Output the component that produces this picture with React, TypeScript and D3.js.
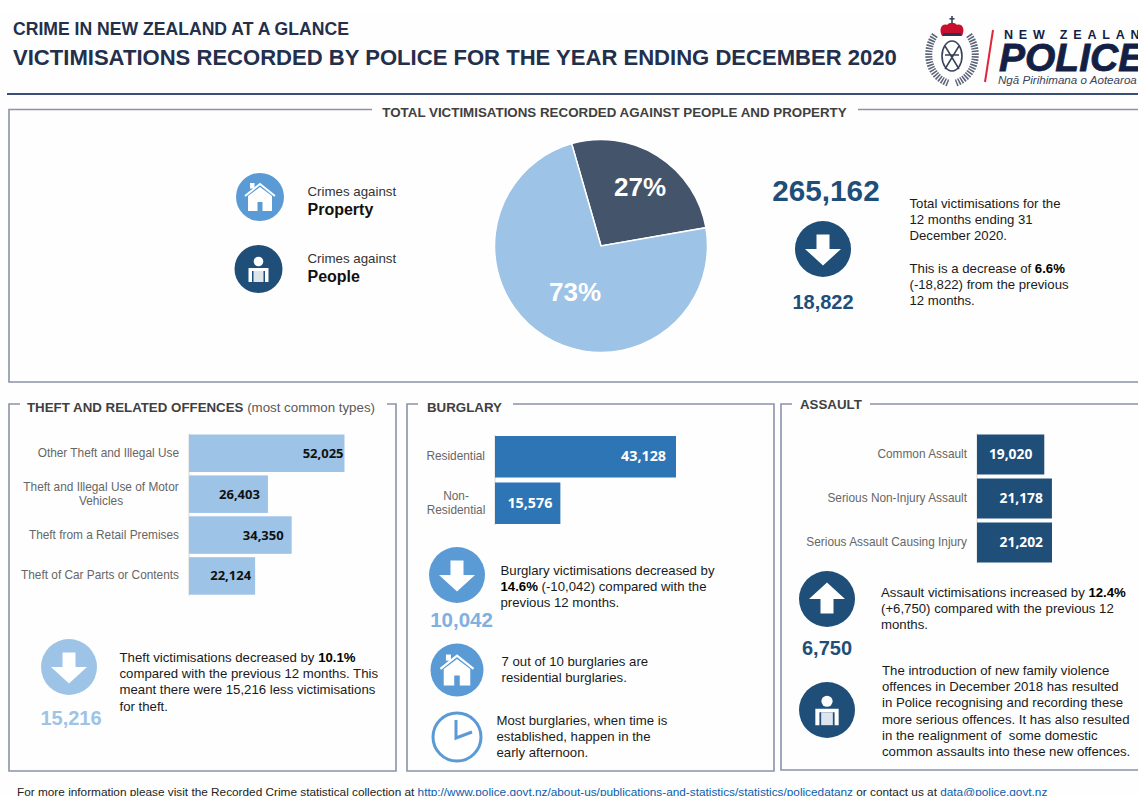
import React from "react";
import * as d3 from "d3";

const pieLabels = ["27%", "73%"];
const pieValues = [26.7, 73.3];
const theftCats = [["Other Theft and Illegal Use"], ["Theft and Illegal Use of Motor", "Vehicles"], ["Theft from a Retail Premises"], ["Theft of Car Parts or Contents"]];
const theftVals = [52025, 26403, 34350, 22124];
const burgCats = [["Residential"], ["Non-", "Residential"]];
const burgVals = [43128, 15576];
const assaultCats = [["Common Assault"], ["Serious Non-Injury Assault"], ["Serious Assault Causing Injury"]];
const assaultVals = [19020, 21178, 21202];

const F = "'Liberation Sans', Arial, sans-serif";
const LIGHT = "#9dc3e6";
const MID = "#5b9bd5";
const DARK = "#1f4e79";
const BAR2 = "#2e75b6";
const SLATE = "#44546a";
const FRAME = "#8b93a8";
const TXT = "#1a1a1a";
const GREY = "#666666";

const fmt = d3.format(",");

function Arrow({ x, y, r, fill, up }: any) {
  const s = r / 28;
  return (
    <g transform={`translate(${x},${y}) scale(${s})`}>
      <circle r={28} fill={fill} />
      <path transform={up ? "rotate(180)" : undefined} d="M-6.5,-14.5 H6.5 V0 H18 L0,16.5 L-18,0 H-6.5 Z" fill="#fff" />
    </g>
  );
}
function House({ x, y, r, fill }: any) {
  const s = r / 24;
  return (
    <g transform={`translate(${x},${y}) scale(${s})`}>
      <circle r={24} fill={fill} />
      <path d="M-12,14 V-1 L0,-10 L12,-1 V14 H2.5 V5 H-2.5 V14 Z" fill="#fff" />
      <path d="M-15,-1 L0,-13 L15,-1" fill="none" stroke="#fff" strokeWidth={2} />
      <rect x={-10} y={-14} width={4.5} height={5.5} fill="#fff" />
    </g>
  );
}
function Person({ x, y, r, fill }: any) {
  const s = r / 24;
  return (
    <g transform={`translate(${x},${y}) scale(${s})`}>
      <circle r={24} fill={fill} />
      <circle cy={-7.5} r={4.8} fill="#fff" />
      <path d="M-10,13 V-1 H10 V13 H6.5 V2 H-6.5 V13 Z" fill="#fff" />
      <rect x={-5} y={2} width={10} height={11} fill="#fff" opacity={0.85} />
    </g>
  );
}
function Clock({ x, y, r }: any) {
  return (
    <g transform={`translate(${x},${y})`}>
      <circle r={r - 1.5} fill="#fff" stroke={MID} strokeWidth={3} />
      <path d="M-1,-17 V1 L15,-5" fill="none" stroke={MID} strokeWidth={3} />
    </g>
  );
}
function Frame({ x, y, w, h, gapA, gapB }: any) {
  return (
    <path d={`M${gapA},${y} H${x} V${y + h} H${x + w} V${y} H${gapB}`} fill="none" stroke={FRAME} strokeWidth={1.6} />
  );
}
function Lines({ x, y, lh, lines, size = 13.2, anchor = "start", fill = TXT }: any) {
  return (
    <text x={x} y={y} fontFamily={F} fontSize={size} fill={fill} textAnchor={anchor}>
      {lines.map((l: any, i: number) => (
        <tspan key={i} x={x} y={y + i * lh}>
          {Array.isArray(l)
            ? l.map((p: string, j: number) =>
                p.startsWith("*") ? (
                  <tspan key={j} fontWeight="bold" fill="#000">{p.slice(1)}</tspan>
                ) : (
                  <tspan key={j}>{p}</tspan>
                ))
            : l}
        </tspan>
      ))}
    </text>
  );
}
function BarChart({ cats, vals, x0, y0, scale, step, h, fill, labelFill, labelSize = 13, insets, catX }: any) {
  const n = vals.length;
  const y = d3.scaleBand<number>().domain(d3.range(n)).range([y0, y0 + step * n - (step - h)]).paddingInner(1 - h / step).paddingOuter(0);
  return (
    <g>
      <line x1={x0} x2={x0} y1={y0 - 1} y2={y0 + step * n - (step - h) + 1} stroke="#d9d9d9" strokeWidth={1} />
      {vals.map((v: number, i: number) => {
        const by = y(i)!;
        const bw = scale(v);
        const c = cats[i];
        const cy = by + y.bandwidth() / 2;
        return (
          <g key={i}>
            <rect x={x0} y={by} width={bw} height={y.bandwidth()} fill={fill} />
            <text x={x0 + bw - insets[i]} y={cy + 4.5} textAnchor="end" fontFamily={"'Open Sans', 'Noto Sans', sans-serif"} fontWeight="bold" fontSize={labelSize} fill={labelFill}>{fmt(v)}</text>
            {c.map((t: string, k: number) => (
              <text key={k} x={c.length > 1 ? catX.multi : catX.single} y={cy + 3.5 + (k - (c.length - 1) / 2) * 14} textAnchor={c.length > 1 ? "middle" : "end"} fontFamily={F} fontSize={11.85} fill={GREY}>{t}</text>
            ))}
          </g>
        );
      })}
    </g>
  );
}

export default function App() {
  const pie = d3.pie<number>().sort(null).startAngle((-16 * Math.PI) / 180).endAngle((344 * Math.PI) / 180)(pieValues);
  const arc = d3.arc<any>().innerRadius(0).outerRadius(106.5);
  const theftX = d3.scaleLinear().domain([0, 52025]).range([0, 155.5]);
  const burgX = d3.scaleLinear().domain([0, 43128]).range([0, 181]);
  const asX = d3.scaleLinear().domain([0, 21202]).range([0, 75]);
  return (
    <svg width={1138} height={796} style={{ position: "absolute", left: 0, top: 0, background: "#fff" }}>
      <rect x={0} y={14} width={1138} height={782} fill="#fefefe" />
      {/* Header */}
      <text x={13} y={35} fontFamily={F} fontWeight="bold" fontSize={17.6} fill="#232f4b">CRIME IN NEW ZEALAND AT A GLANCE</text>
      <text x={13} y={65} fontFamily={F} fontWeight="bold" fontSize={22.07} fill="#232f4b">VICTIMISATIONS RECORDED BY POLICE FOR THE YEAR ENDING DECEMBER 2020</text>
      {/* Logo */}
      <g transform="translate(952,55)">
        <path d="M-17,-20 C-28,-5 -25,20 -4,28 M17,-20 C28,-5 25,20 4,28" fill="none" stroke="#5c6478" strokeWidth={7} strokeDasharray="1.6 1.2" />
        <ellipse cx={0} cy={1} rx={10} ry={15} fill="none" stroke="#3a4258" strokeWidth={1.6} />
        <path d="M-7,-9 L7,14 M7,-9 L-7,14 M-7,0 H7" stroke="#3a4258" strokeWidth={1.5} fill="none" />
        <path d="M-10,-19 C-14,-27 -9,-32 -5,-30 C-3,-33 3,-33 5,-30 C9,-32 14,-27 10,-19 Z" fill="#c8102e" />
        <rect x={-9} y={-22} width={18} height={3} fill="#2c3450" />
        <rect x={-0.8} y={-39} width={1.6} height={8} fill="#3a4258" />
        <rect x={-2.5} y={-37} width={5} height={1.6} fill="#3a4258" />
      </g>
      <path d="M993,30 L985,82" stroke="#e0263c" strokeWidth={2} />
      <text x={1004} y={39} fontFamily={F} fontWeight="bold" fontSize={12.5} letterSpacing={5.8} fill="#141f45">NEW ZEALAND</text>
      <text x={999} y={71} fontFamily={F} fontWeight="bold" fontStyle="italic" fontSize={39} stroke="#141f45" strokeWidth={0.8} fill="#141f45">POLICE</text>
      <text x={998} y={84} fontFamily={F} fontSize={11.6} fontStyle="italic" fill="#3a4258">Ngā Pirihimana o Aotearoa</text>
      <line x1={7} x2={1138} y1={94} y2={94} stroke="#3c4f74" strokeWidth={2} />

      {/* Total frame */}
      <Frame x={9} y={109.5} w={1140} h={272.5} gapA={372} gapB={858} />
      <text x={614.5} y={117} textAnchor="middle" fontFamily={F} fontWeight="bold" fontSize={13.35} fill="#404040">TOTAL VICTIMISATIONS RECORDED AGAINST PEOPLE AND PROPERTY</text>

      <House x={260} y={197} r={24} fill={MID} />
      <Person x={258.5} y={269} r={24} fill={DARK} />
      <text x={307.5} y={196} fontFamily={F} fontSize={13.3} fill="#333">Crimes against</text>
      <text x={307.5} y={215} fontFamily={F} fontWeight="bold" fontSize={16} fill="#111">Property</text>
      <text x={307.5} y={263} fontFamily={F} fontSize={13.3} fill="#333">Crimes against</text>
      <text x={307.5} y={282} fontFamily={F} fontWeight="bold" fontSize={16} fill="#111">People</text>

      <g transform="translate(601,246)">
        {pie.map((d, i) => (
          <path key={i} d={arc(d)!} fill={i === 0 ? SLATE : LIGHT} stroke="#fff" strokeWidth={1.5} />
        ))}
      </g>
      <text x={640} y={196} textAnchor="middle" fontFamily={F} fontWeight="bold" fontSize={26} fill="#fff">{pieLabels[0]}</text>
      <text x={575} y={301} textAnchor="middle" fontFamily={F} fontWeight="bold" fontSize={26} fill="#fff">{pieLabels[1]}</text>

      <text x={826} y={201} textAnchor="middle" fontFamily={F} fontWeight="bold" fontSize={29.7} fill={DARK}>265,162</text>
      <Arrow x={823} y={249} r={28} fill={DARK} />
      <text x={823} y={309} textAnchor="middle" fontFamily={F} fontWeight="bold" fontSize={20} fill={DARK}>18,822</text>
      <Lines x={909.5} y={208} lh={16.2} lines={["Total victimisations for the", "12 months ending 31", "December 2020."]} />
      <Lines x={909.5} y={273} lh={16.2} lines={[["This is a decrease of ", "*6.6%"], "(-18,822) from the previous", "12 months."]} />

      {/* Theft */}
      <Frame x={9} y={404} w={387} h={367} gapA={20} gapB={387} />
      <text x={27} y={412} fontFamily={F} fontSize={13.3} fill="#404040"><tspan fontWeight="bold">THEFT AND RELATED OFFENCES</tspan><tspan fill="#595959"> (most common types)</tspan></text>
      <BarChart cats={theftCats} vals={theftVals} x0={189} y0={434.5} scale={theftX} step={40.9} h={37.5} fill={LIGHT} labelFill="#111" insets={[1, 8, 8, 4]} catX={{ single: 179, multi: 101 }} />
      <Arrow x={69} y={667} r={28} fill={LIGHT} />
      <text x={71} y={725} textAnchor="middle" fontFamily={F} fontWeight="bold" fontSize={20} fill={LIGHT}>15,216</text>
      <Lines x={119.5} y={662} lh={16.2} lines={[["Theft victimisations decreased by ", "*10.1%"], "compared with the previous 12 months. This", "meant there were 15,216 less victimisations", "for theft."]} />

      {/* Burglary */}
      <Frame x={407} y={404} w={367} h={367} gapA={418} gapB={513} />
      <text x={427} y={412} fontFamily={F} fontWeight="bold" fontSize={13.3} fill="#404040">BURGLARY</text>
      <BarChart cats={burgCats} vals={burgVals} x0={495} y0={436} scale={burgX} step={46.5} h={41.5} fill={BAR2} labelFill="#fff" labelSize={14.3} insets={[10, 8]} catX={{ single: 485, multi: 456 }} />
      <Arrow x={457} y={575} r={28} fill={MID} />
      <text x={461.5} y={627} textAnchor="middle" fontFamily={F} fontWeight="bold" fontSize={20.5} fill="#7fb0e0">10,042</text>
      <Lines x={500.5} y={575} lh={16.2} lines={["Burglary victimisations decreased by", ["*14.6%", " (-10,042) compared with the"], "previous 12 months."]} />
      <House x={457} y={670} r={26.5} fill={MID} />
      <Lines x={501.5} y={666} lh={16.2} lines={["7 out of 10 burglaries are", "residential burglaries."]} />
      <Clock x={457} y={737} r={25.5} />
      <Lines x={496.5} y={725} lh={16.2} lines={["Most burglaries, when time is", "established, happen in the", "early afternoon."]} />

      {/* Assault */}
      <Frame x={781} y={404} w={370} h={366} gapA={792} gapB={870} />
      <text x={800} y={409} fontFamily={F} fontWeight="bold" fontSize={13.3} fill="#404040">ASSAULT</text>
      <BarChart cats={assaultCats} vals={assaultVals} x0={977} y0={434.5} scale={asX} step={44} h={40} fill={DARK} labelFill="#fff" labelSize={13.8} insets={[12, 9, 9]} catX={{ single: 967, multi: 890 }} />
      <Arrow x={827} y={599} r={28} fill={DARK} up />
      <text x={827} y={655} textAnchor="middle" fontFamily={F} fontWeight="bold" fontSize={20} fill={DARK}>6,750</text>
      <Lines x={881} y={597} lh={16.2} lines={[["Assault victimisations increased by ", "*12.4%"], "(+6,750) compared with the previous 12", "months."]} />
      <Person x={827} y={710} r={28} fill={DARK} />
      <Lines x={882} y={675} lh={16.2} lines={["The introduction of new family violence", "offences in December 2018 has resulted", "in Police recognising and recording these", "more serious offences. It has also resulted", "in the realignment of \u00a0some domestic", "common assaults into these new offences."]} />

      {/* Footer */}
      <text x={17} y={796} fontFamily={F} fontSize={11.8} fill="#222">
        For more information please visit the Recorded Crime statistical collection at <tspan fill="#0b5cad" textDecoration="underline">http://www.police.govt.nz/about-us/publications-and-statistics/statistics/policedatanz</tspan> or contact us at <tspan fill="#0b5cad" textDecoration="underline">data@police.govt.nz</tspan>
      </text>
    </svg>
  );
}
